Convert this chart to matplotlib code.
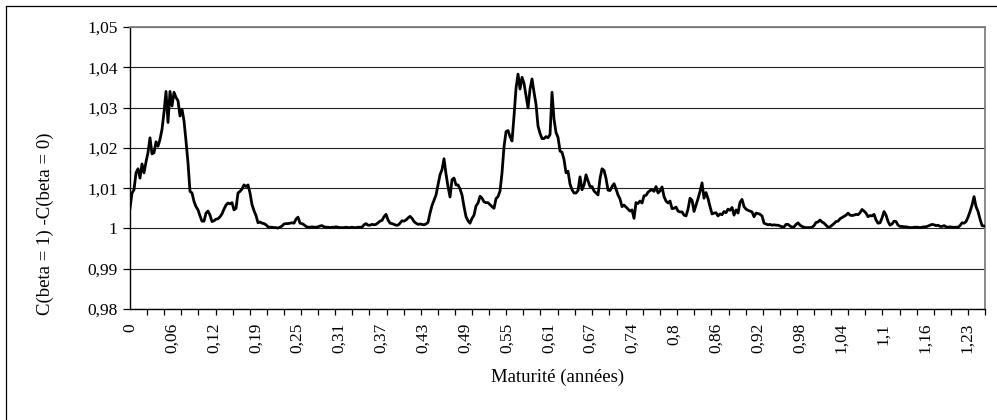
import numpy as np
import matplotlib
matplotlib.use("Agg")
import matplotlib.pyplot as plt
from matplotlib.lines import Line2D

# ---- data ----
ratio_values = [
    1.0050, 1.0088, 1.0096, 1.0138, 1.0148, 1.0125, 1.0160, 1.0138, 1.0165, 1.0188,
    1.0225, 1.0185, 1.0188, 1.0215, 1.0204, 1.0221, 1.0246, 1.0288, 1.0340, 1.0263,
    1.0340, 1.0304, 1.0338, 1.0325, 1.0317, 1.0279, 1.0296, 1.0267, 1.0217, 1.0163,
    1.0092, 1.0088, 1.0067, 1.0054, 1.0046, 1.0031, 1.0018, 1.0018, 1.0038, 1.0043,
    1.0033, 1.0017, 1.0019, 1.0023, 1.0024, 1.0029, 1.0036, 1.0048, 1.0058, 1.0063,
    1.0061, 1.0064, 1.0046, 1.0050, 1.0088, 1.0092, 1.0098, 1.0108, 1.0104, 1.0108,
    1.0088, 1.0059, 1.0044, 1.0032, 1.0014, 1.0016, 1.0013, 1.0012, 1.0009, 1.0004,
    1.0003, 1.0003, 1.0002, 1.0002, 1.0001, 1.0003, 1.0006, 1.0011, 1.0012, 1.0012,
    1.0013, 1.0014, 1.0013, 1.0023, 1.0028, 1.0013,
    1.0012, 1.0009, 1.0005, 1.0003, 1.0003, 1.0004, 1.0003, 1.0003, 1.0004, 1.0006,
    1.0007, 1.0004, 1.0003, 1.0003, 1.0002, 1.0003, 1.0003, 1.0004, 1.0003, 1.0002,
    1.0002, 1.0002, 1.0003, 1.0002, 1.0002, 1.0003, 1.0002, 1.0002, 1.0003, 1.0003,
    1.0003, 1.0009, 1.0012, 1.0008, 1.0008, 1.0010, 1.0009, 1.0010, 1.0014, 1.0018,
    1.0020, 1.0029, 1.0035, 1.0021, 1.0013, 1.0012, 1.0010, 1.0008, 1.0008, 1.0013,
    1.0019, 1.0018, 1.0021, 1.0026, 1.0030, 1.0025, 1.0017, 1.0013, 1.0010, 1.0011,
    1.0010, 1.0009, 1.0011, 1.0015, 1.0038, 1.0057, 1.0070, 1.0083, 1.0108, 1.0133,
    1.0146, 1.0173, 1.0135, 1.0104, 1.0078, 1.0121, 1.0125, 1.0108, 1.0108, 1.0098,
    1.0083, 1.0054, 1.0029, 1.0019, 1.0013, 1.0025,
    1.0033, 1.0056, 1.0063, 1.0080, 1.0075, 1.0066, 1.0064, 1.0064, 1.0059, 1.0054,
    1.0050, 1.0074, 1.0079, 1.0093, 1.0138, 1.0203, 1.0240, 1.0243, 1.0228, 1.0217,
    1.0279, 1.0348, 1.0383, 1.0346, 1.0375, 1.0360, 1.0329, 1.0299, 1.0346, 1.0371,
    1.0338, 1.0308, 1.0254, 1.0236, 1.0223, 1.0223, 1.0228, 1.0225, 1.0233, 1.0338,
    1.0271, 1.0238, 1.0226, 1.0192, 1.0189, 1.0171, 1.0138, 1.0142, 1.0110, 1.0096,
    1.0088, 1.0088, 1.0094, 1.0128, 1.0096, 1.0108, 1.0133, 1.0118, 1.0104, 1.0104,
    1.0093, 1.0088, 1.0083, 1.0124, 1.0148, 1.0144, 1.0124, 1.0095, 1.0094, 1.0104,
    1.0111, 1.0098, 1.0083, 1.0073, 1.0054, 1.0058, 1.0053, 1.0048, 1.0043, 1.0046,
    1.0025, 1.0064, 1.0062, 1.0068, 1.0063, 1.0081,
    1.0082, 1.0090, 1.0094, 1.0096, 1.0092, 1.0104, 1.0088, 1.0093, 1.0103, 1.0079,
    1.0068, 1.0063, 1.0068, 1.0049, 1.0050, 1.0053, 1.0043, 1.0041, 1.0041, 1.0033,
    1.0031, 1.0048, 1.0075, 1.0070, 1.0042, 1.0058, 1.0074, 1.0092, 1.0113, 1.0075,
    1.0089, 1.0074, 1.0054, 1.0036, 1.0038, 1.0039, 1.0031, 1.0036, 1.0034, 1.0042,
    1.0039, 1.0048, 1.0045, 1.0052, 1.0033, 1.0046, 1.0038, 1.0065, 1.0072, 1.0054,
    1.0048, 1.0045, 1.0043, 1.0041, 1.0029, 1.0038, 1.0037, 1.0035, 1.0031, 1.0013,
    1.0011, 1.0009, 1.0010, 1.0008, 1.0009, 1.0008, 1.0008, 1.0006, 1.0004, 1.0004,
    1.0010, 1.0010, 1.0006, 1.0003, 1.0004, 1.0010, 1.0014, 1.0008, 1.0005, 1.0003,
    1.0002, 1.0002, 1.0002, 1.0003, 1.0007, 1.0015,
    1.0016, 1.0021, 1.0016, 1.0013, 1.0008, 1.0003, 1.0004, 1.0008, 1.0012, 1.0017,
    1.0018, 1.0024, 1.0027, 1.0030, 1.0033, 1.0038, 1.0033, 1.0032, 1.0033, 1.0035,
    1.0034, 1.0039, 1.0047, 1.0043, 1.0038, 1.0029, 1.0032, 1.0031, 1.0035, 1.0021,
    1.0013, 1.0014, 1.0026, 1.0042, 1.0033, 1.0017, 1.0008, 1.0011, 1.0018, 1.0017,
    1.0008, 1.0005, 1.0005, 1.0004, 1.0004, 1.0003, 1.0002, 1.0002, 1.0003, 1.0003,
    1.0003, 1.0002, 1.0003, 1.0004, 1.0004, 1.0006, 1.0008, 1.0010, 1.0009, 1.0007,
    1.0008, 1.0005, 1.0005, 1.0007, 1.0004, 1.0003, 1.0004, 1.0003, 1.0003, 1.0003,
    1.0003, 1.0007, 1.0014, 1.0013, 1.0017, 1.0028, 1.0042, 1.0058, 1.0079, 1.0054,
    1.0042, 1.0023, 1.0007, 1.0006,
]
maturity_start = 0.0
maturity_end = 1.255

xtick_labels = ['0', '0,06', '0,12', '0,19', '0,25', '0,31', '0,37', '0,43',
                '0,49', '0,55', '0,61', '0,67', '0,74', '0,8', '0,86', '0,92',
                '0,98', '1,04', '1,1', '1,16', '1,23']
label_step = 0.0615
ytick_values = [0.98, 0.99, 1.00, 1.01, 1.02, 1.03, 1.04, 1.05]
ytick_labels = ['0,98', '0,99', '1', '1,01', '1,02', '1,03', '1,04', '1,05']

x_title = 'Maturité (années)'
y_title = 'C(beta = 1) -C(beta = 0)'

# ---- figure ----
W, H = 997, 420
fig = plt.figure(figsize=(W / 100, H / 100), dpi=100)
fig.patch.set_facecolor('white')
serif = ['Liberation Serif', 'DejaVu Serif']
tick_fs = 12.5
title_fs = 13.5

x_left, x_right, y_top, y_bot = 130, 985, 27, 309
ax = fig.add_axes([x_left / W, 1 - y_bot / H, (x_right - x_left) / W, (y_bot - y_top) / H])

maturity = np.linspace(maturity_start, maturity_end, len(ratio_values))
ax.plot(maturity, ratio_values, color='black', lw=2.0, solid_joinstyle='round', zorder=3)

xmax = 1.2564
ax.set_xlim(0, xmax)
ax.set_ylim(0.98, 1.05)

ax.set_yticks(ytick_values)
ax.set_yticklabels(ytick_labels, fontfamily=serif, fontsize=tick_fs)
ax.yaxis.grid(True, color='#222222', lw=0.8)
ax.set_axisbelow(True)

label_pos = np.arange(len(xtick_labels)) * label_step
ax.set_xticks(label_pos)
ax.set_xticklabels(xtick_labels, rotation=90, fontfamily=serif, fontsize=tick_fs)
ax.set_xticks(np.linspace(0, xmax, 51), minor=True)
ax.tick_params(axis='x', which='major', length=0, pad=10)
ax.tick_params(axis='x', which='minor', length=4, width=0.9, direction='out', color='black')
ax.tick_params(axis='y', which='major', length=5, width=0.9, direction='out', pad=4, color='black')

for s in ['left', 'bottom']:
    ax.spines[s].set_color('black')
    ax.spines[s].set_linewidth(1.0)
for s in ['top', 'right']:
    ax.spines[s].set_color('#808080')
    ax.spines[s].set_linewidth(1.3)

ax.set_xlabel(x_title, fontfamily=serif, fontsize=title_fs)
ax.xaxis.set_label_coords(0.5, -0.241)
ax.xaxis.label.set_verticalalignment('center')
ax.set_ylabel(y_title, fontfamily=serif, fontsize=title_fs)
ax.yaxis.set_label_coords(-0.0994, 0.301)
ax.yaxis.label.set_verticalalignment('center')

# outer chart frame (left and top edges visible)
fig.add_artist(Line2D([6 / W, 6 / W], [0, 1 - 6 / H], color='black', lw=0.9))
fig.add_artist(Line2D([6 / W, 1], [1 - 6 / H, 1 - 6 / H], color='black', lw=0.9))

fig.savefig('out.png', dpi=100)
